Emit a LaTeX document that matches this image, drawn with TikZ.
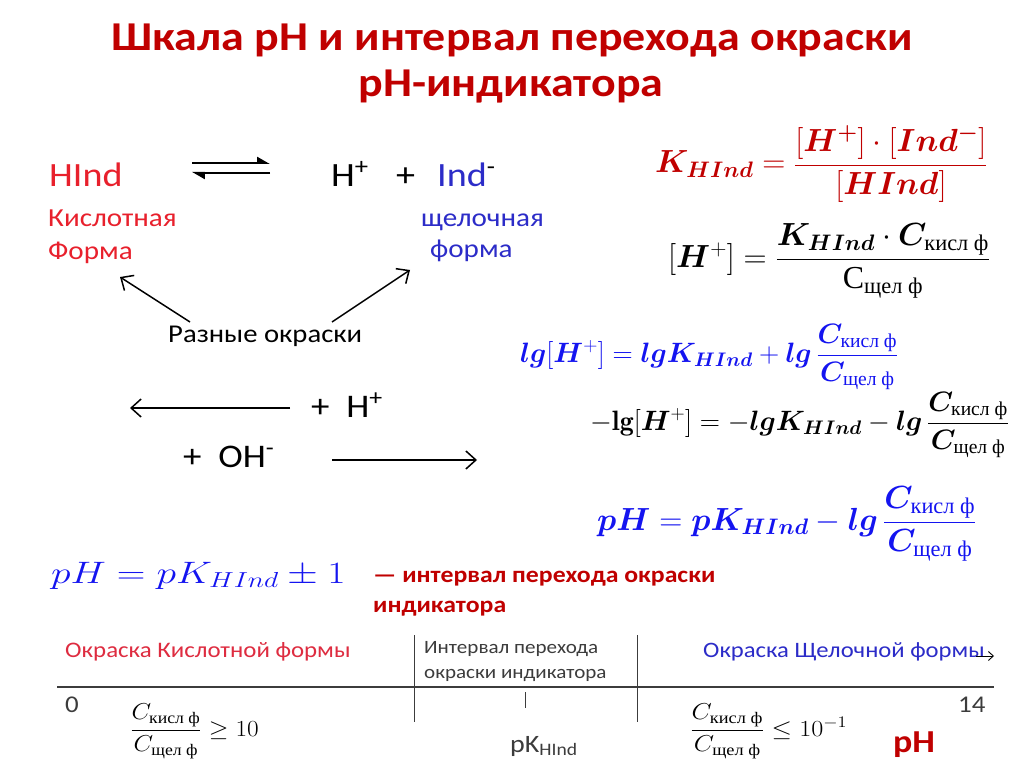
\documentclass[tikz,border=0pt]{standalone}
\usepackage{fix-cm}
\usepackage{graphicx}
\usepackage{amsmath,bm}
\usepackage{fontspec}
\newfontfamily\calib{Carlito}
\newfontfamily\serifcyr{Liberation Serif}
\usetikzlibrary{arrows.meta}
\definecolor{darkred}{RGB}{192,0,0}
\definecolor{brightred}{RGB}{232,32,44}
\definecolor{formblue}{RGB}{44,44,200}
\definecolor{mathblue}{RGB}{20,20,240}
\definecolor{lightred}{RGB}{222,44,64}
\definecolor{axisgray}{RGB}{60,60,60}
\newcommand{\fsz}[1]{\fontsize{#1}{#1}\selectfont}
\newcommand{\sx}[2]{\scalebox{#1}[1]{#2}}
\newcommand{\cy}[1]{\text{\serifcyr\upshape\mdseries #1}}
\tikzset{
  txt/.style={inner sep=0pt, anchor=base west},
  bigarrow/.style={line width=1.5pt, -{Straight Barb[length=10pt,width=18pt,line width=1.5pt]}},
  harp/.style={line width=2pt, -{Triangle[harpoon,length=11pt,width=12pt]}},
  axisline/.style={line width=1.3pt, axisgray},
}
\begin{document}
\begin{tikzpicture}[x=1pt,y=-1pt]
\fill[white] (0,0) rectangle (1024,767);
\useasboundingbox (0,0) rectangle (1024,767);

% Title
\node[inner sep=0pt, anchor=base] (title1) at (512,51) {\sx{1.12}{\calib\bfseries\fsz{41}\color{darkred}Шкала pH и интервал перехода окраски}};
\node[inner sep=0pt, anchor=base] (title2) at (511,97) {\sx{1.12}{\calib\bfseries\fsz{41}\color{darkred}pH-индикатора}};

% Left scheme
\node[txt] (hind) at (49,187) {\sx{1.12}{\calib\fsz{34}\color{brightred}HInd}};
\node[txt] (hplus) at (331,187) {\sx{1.12}{\calib\fsz{34}H\textsuperscript{+}}};
\node[txt] (plus) at (396,187) {\sx{1.12}{\calib\fsz{34}+}};
\node[txt] (ind) at (437,187) {\sx{1.12}{\calib\fsz{34}{\color{formblue}Ind}\textsuperscript{-}}};
\coordinate (eqa1) at (192,163);
\coordinate (eqa2) at (270,163);
\coordinate (eqb1) at (270,173);
\coordinate (eqb2) at (192,173);
\draw[harp] (eqa1) -- (eqa2);
\draw[harp] (eqb1) -- (eqb2);

\node[txt] (kisl) at (48,226) {\sx{1.12}{\calib\fsz{26}\color{brightred}Кислотная}};
\node[txt] (forma1) at (48,259) {\sx{1.12}{\calib\fsz{26}\color{brightred}Форма}};
\node[txt] (shch) at (421,226) {\sx{1.12}{\calib\fsz{26}\color{formblue}щелочная}};
\node[txt] (forma2) at (430,257) {\sx{1.12}{\calib\fsz{26}\color{formblue}форма}};
\node[txt] (razn) at (168,342) {\sx{1.12}{\calib\fsz{25.6}Разные окраски}};
\coordinate (la1) at (190,322);
\coordinate (la2) at (120,277);
\coordinate (ra1) at (332,322);
\coordinate (ra2) at (410,270);
\draw[bigarrow] (la1) -- (la2);
\draw[bigarrow] (ra1) -- (ra2);

\node[txt] (plush) at (311,417) {\sx{1.12}{\calib\fsz{33}+\ \ H\textsuperscript{+}}};
\node[txt] (plusoh) at (183,467) {\sx{1.12}{\calib\fsz{33}+\ \ OH\textsuperscript{-}}};
\coordinate (ha1) at (290,408);
\coordinate (ha2) at (130,408);
\coordinate (oa1) at (332,460);
\coordinate (oa2) at (477,460);
\draw[bigarrow] (ha1) -- (ha2);
\draw[bigarrow] (oa1) -- (oa2);

% Right formulas
\node[txt] (f1) at (655,173) {\fsz{32}\color{darkred}$\bm{K}_{\bm{HInd}} = \dfrac{[\bm{H}^{\bm{+}}]\cdot[\bm{Ind}^{\bm{-}}]}{[\bm{HInd}]}$};
\node[txt] (f2) at (668,267) {\fsz{32}$[\bm{H}^{+}] = \dfrac{\bm{K}_{\bm{HInd}}\cdot\bm{C}_{\cy{кисл ф}}}{\cy{С}_{\cy{щел ф}}}$};
\node[txt] (f3) at (520,362) {\fsz{28}\color{mathblue}$\bm{lg}[\bm{H}^{+}] = \bm{lgK}_{\bm{HInd}} + \bm{lg}\,\dfrac{\bm{C}_{\cy{кисл ф}}}{\bm{C}_{\cy{щел ф}}}$};
\node[txt] (f4) at (590,430) {\fsz{28}$-\mathbf{lg}[\bm{H}^{+}] = -\bm{lgK}_{\bm{HInd}} - \bm{lg}\,\dfrac{\bm{C}_{\cy{кисл ф}}}{\bm{C}_{\cy{щел ф}}}$};
\node[txt] (f5) at (597,530) {\fsz{32}\color{mathblue}$\bm{pH} = \bm{pK}_{\bm{HInd}} - \bm{lg}\,\dfrac{\bm{C}_{\cy{кисл ф}}}{\bm{C}_{\cy{щел ф}}}$};

% Bottom
\node[txt] (f6) at (51,583) {\sx{1.28}{\fsz{31}\color{mathblue}$pH = pK_{HInd} \pm 1$}};
\node[txt] (intv1) at (373,582) {\sx{1.12}{\calib\bfseries\fsz{23}\color{darkred}— интервал перехода окраски}};
\node[txt] (intv2) at (373,612) {\sx{1.12}{\calib\bfseries\fsz{23}\color{darkred}индикатора}};

\coordinate (axL) at (57,687);
\coordinate (axR) at (994,687);
\draw[axisline] (axL) -- (axR);
\coordinate (v1a) at (414,635);
\coordinate (v1b) at (414,722);
\coordinate (v2a) at (637,635);
\coordinate (v2b) at (637,722);
\draw[axisline, line width=1pt] (v1a) -- (v1b);
\draw[axisline, line width=1pt] (v2a) -- (v2b);
\coordinate (tk1) at (525,692);
\coordinate (tk2) at (525,708);
\draw[axisline, line width=1pt] (tk1) -- (tk2);

\node[txt] (acidc) at (65,657) {\sx{1.12}{\calib\fsz{22.2}\color{lightred}Окраска Кислотной формы}};
\node[txt] (trans1) at (424,653) {\sx{1.12}{\calib\fsz{18.8}\color{axisgray}Интервал перехода}};
\node[txt] (trans2) at (424,678) {\sx{1.12}{\calib\fsz{18.8}\color{axisgray}окраски индикатора}};
\node[txt] (basec) at (703,657) {\sx{1.12}{\calib\fsz{22}\color{formblue}Окраска Щелочной формы}};
\coordinate (sa1) at (976,656);
\coordinate (sa2) at (994,656);
\draw[line width=0.9pt, -{Straight Barb[length=5pt,width=9pt]}] (sa1) -- (sa2);

\node[txt] (zero) at (65,712) {\sx{1.12}{\calib\fsz{24}\color{axisgray}0}};
\node[txt] (fourteen) at (958,712) {\sx{1.12}{\calib\fsz{24}\color{axisgray}14}};
\node[txt] (fracL) at (130,736) {\sx{1.1}{\fsz{23}$\dfrac{C_{\cy{кисл ф}}}{C_{\cy{щел ф}}} \geq 10$}};
\node[txt] (fracR) at (690,736) {\sx{1.14}{\fsz{23}$\dfrac{C_{\cy{кисл ф}}}{C_{\cy{щел ф}}} \leq 10^{-1}$}};
\node[txt] (pk) at (510,752) {\sx{1.12}{\calib\fsz{25}\color{axisgray}pK\textsubscript{HInd}}};
\node[txt] (phlab) at (893,752) {\sx{1.12}{\calib\bfseries\fsz{32}\color{darkred}pH}};
\end{tikzpicture}
\end{document}
